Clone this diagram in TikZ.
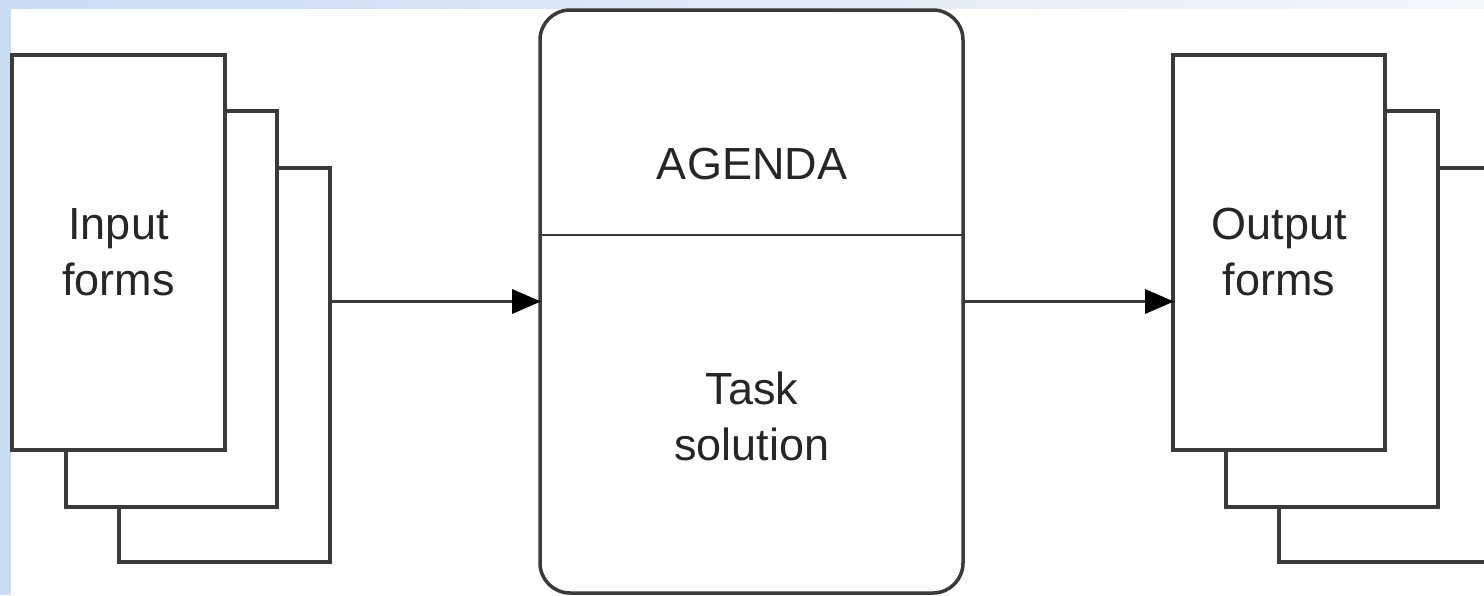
\documentclass[tikz,border=0pt]{standalone}
\usepackage{fontspec}
\setmainfont{Liberation Sans}
\usetikzlibrary{arrows.meta}
\definecolor{bgblue}{HTML}{C9DCF2}
\definecolor{bgpale}{HTML}{F3F7FC}
\definecolor{ln}{HTML}{3A3A3A}
\tikzset{
  form/.style={draw=ln, line width=3.5pt, fill=white, rectangle, inner sep=0pt, outer sep=0pt, anchor=north west, align=center, font=\fontsize{45}{56}\selectfont, text=black!85},
  proc/.style={draw=ln, line width=3.5pt, fill=white, rectangle, rounded corners=30pt, inner sep=0pt, outer sep=0pt, anchor=north west},
  lbl/.style={align=center, font=\fontsize{45}{56}\selectfont, text=black!85, inner sep=0pt},
  arr/.style={draw=ln, line width=3.5pt, -{Triangle[length=29pt,width=24pt,color=black]}, shorten >=-1pt},
}
\begin{document}
\begin{tikzpicture}[x=1pt,y=-1pt]
\useasboundingbox (0,0) rectangle (1484,595);
\fill[white] (0,0) rectangle (1484,595);
\shade[left color=bgblue, right color=bgpale] (0,0) rectangle (1484,8);
\fill[bgblue] (0,0) rectangle (11,595);
\clip (0,0) rectangle (1484,595);
% input stack
\node[form, minimum width=211pt, minimum height=394pt] (in3) at (119,168) {};
\node[form, minimum width=211pt, minimum height=396pt] (in2) at (66,111) {};
\node[form, minimum width=213pt, minimum height=395pt] (in1) at (12,55) {Input\\forms};
% center
\node[proc, minimum width=423pt, minimum height=583pt] (ctr) at (540,10) {};
\coordinate (divy) at (0,235);
\draw[draw=ln, line width=2.5pt] (ctr.west |- divy) -- (ctr.east |- divy);
\node[lbl] (agenda) at (752,164) {AGENDA};
\node[lbl] (task) at (752,416) {Task\\solution};
% output stack
\node[form, minimum width=211pt, minimum height=394pt] (out3) at (1279,168) {};
\node[form, minimum width=212pt, minimum height=396pt] (out2) at (1226,111) {};
\node[form, minimum width=212pt, minimum height=395pt] (out1) at (1173,55) {Output\\forms};
% arrows
\draw[arr] (in3.east |- ctr.west) -- (ctr.west);
\draw[arr] (ctr.east) -- (out1.west |- ctr.east);
\end{tikzpicture}
\end{document}
